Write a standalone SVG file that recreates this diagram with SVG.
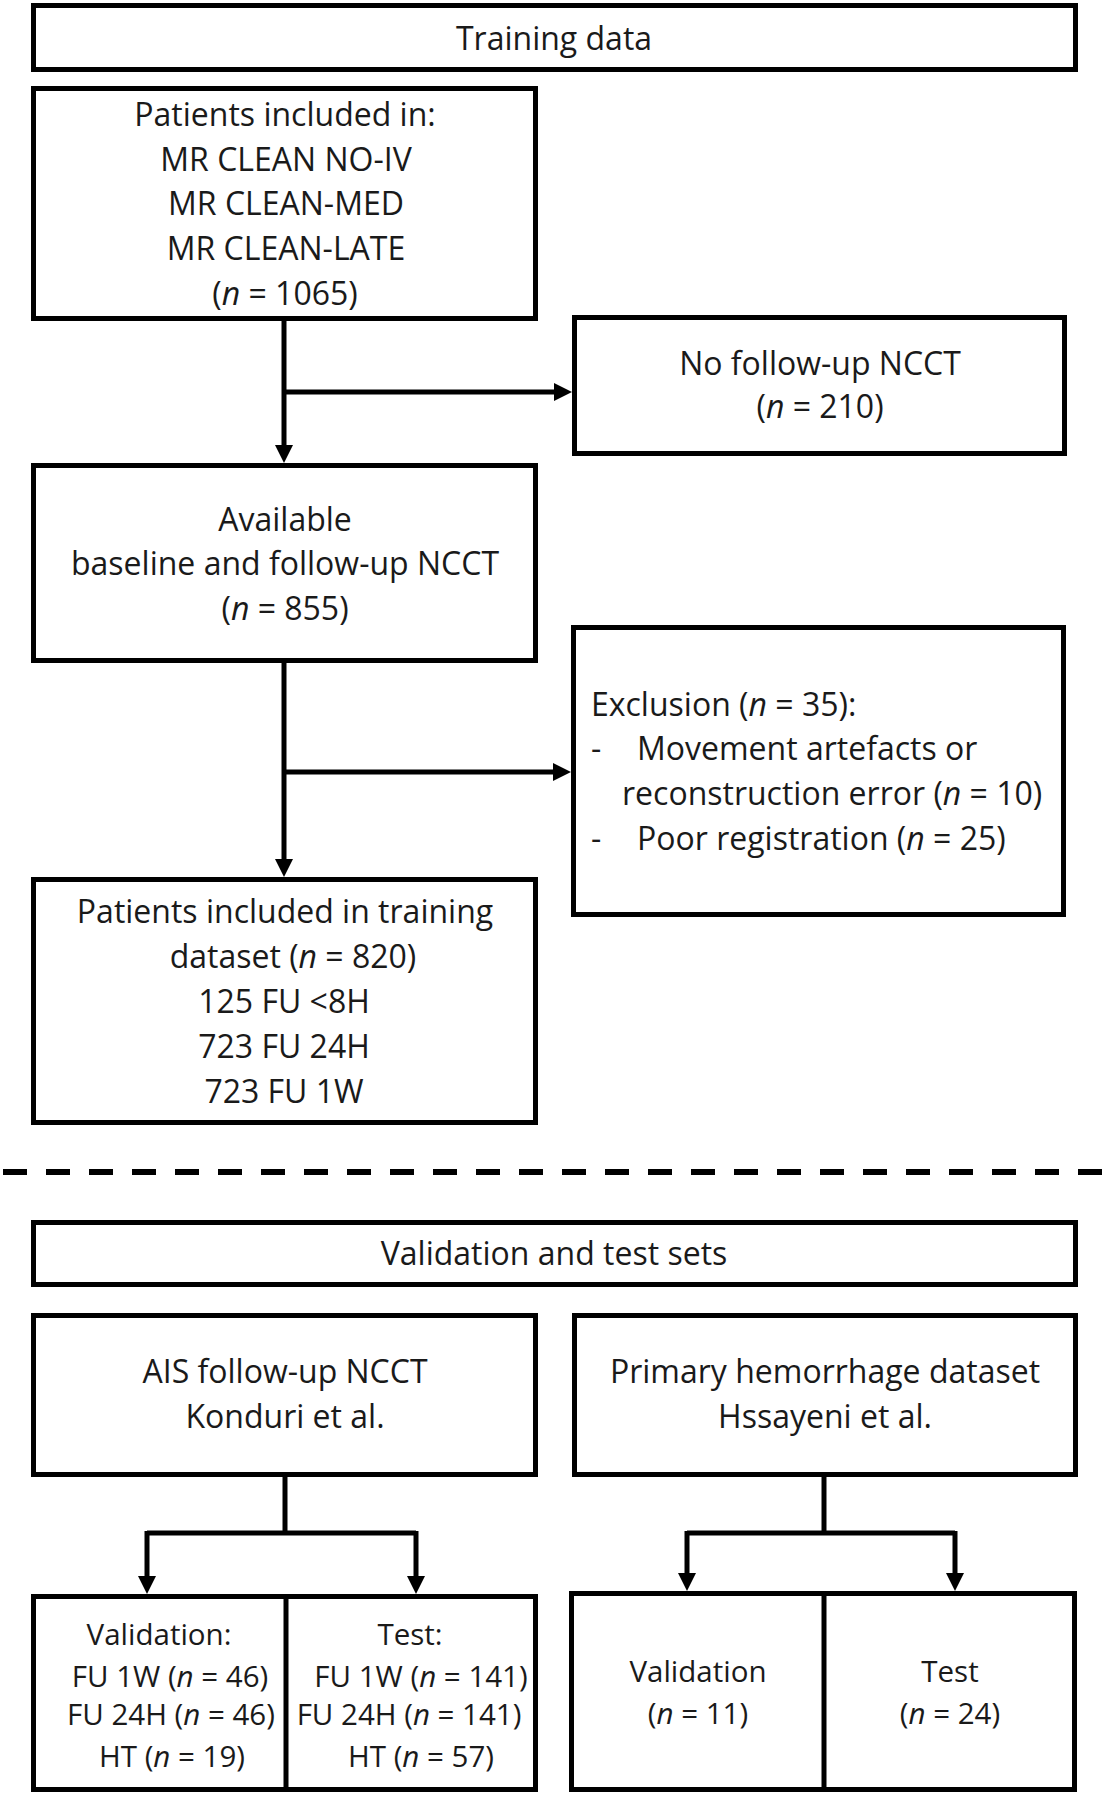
<svg xmlns="http://www.w3.org/2000/svg" width="1118" height="1800" viewBox="0 0 1118 1800">
<defs>
<style>
.box{fill:#fff;stroke:#000;stroke-width:5}
.ln{fill:none;stroke:#000;stroke-width:5}
.t{font-family:"Open Sans","Liberation Sans",sans-serif;font-size:32px;fill:#1a1a1a;text-anchor:middle}
.s{font-size:29.5px}
.l{text-anchor:start}
.i{font-style:italic}
</style>
<marker id="ah" markerUnits="userSpaceOnUse" markerWidth="18" markerHeight="18" viewBox="0 0 18 18" refX="5" refY="9" orient="auto">
<path d="M0,0 L18,9 L0,18 z" fill="#000"/>
</marker>
</defs>
<rect width="1118" height="1800" fill="#fff"/>

<g id="training-header">
<rect class="box" x="33.5" y="5.5" width="1042" height="64"/>
<text class="t" x="554" y="50">Training data</text>
</g>

<g id="patients-included">
<rect class="box" x="33.5" y="88.5" width="502" height="230"/>
<text class="t" x="285" y="126">Patients included in:</text>
<text class="t" x="286" y="171">MR CLEAN NO-IV</text>
<text class="t" x="286" y="215">MR CLEAN-MED</text>
<text class="t" x="286" y="260">MR CLEAN-LATE</text>
<text class="t" x="285" y="305">(<tspan class="i">n</tspan> = 1065)</text>
</g>

<g id="no-followup">
<rect class="box" x="574.5" y="317.5" width="490" height="136"/>
<text class="t" x="820" y="375">No follow-up NCCT</text>
<text class="t" x="820" y="418">(<tspan class="i">n</tspan> = 210)</text>
</g>

<g id="available">
<rect class="box" x="33.5" y="465.5" width="502" height="195"/>
<text class="t" x="285" y="531">Available</text>
<text class="t" x="285" y="575">baseline and follow-up NCCT</text>
<text class="t" x="285" y="620">(<tspan class="i">n</tspan> = 855)</text>
</g>

<g id="exclusion">
<rect class="box" x="573.5" y="627.5" width="490" height="287"/>
<text class="t l" x="591" y="716">Exclusion (<tspan class="i">n</tspan> = 35):</text>
<text class="t l" x="591" y="760">-</text>
<text class="t l" x="637" y="760">Movement artefacts or</text>
<text class="t l" x="622" y="805">reconstruction error  (<tspan class="i">n</tspan> = 10)</text>
<text class="t l" x="591" y="850">-</text>
<text class="t l" x="637" y="850">Poor registration (<tspan class="i">n</tspan> = 25)</text>
</g>

<g id="training-dataset">
<rect class="box" x="33.5" y="879.5" width="502" height="243"/>
<text class="t" x="285" y="923">Patients included in training</text>
<text class="t" x="293" y="968">dataset (<tspan class="i">n</tspan> = 820)</text>
<text class="t" x="284" y="1013">125 FU &lt;8H</text>
<text class="t" x="284" y="1058">723 FU 24H</text>
<text class="t" x="284" y="1103">723 FU 1W</text>
</g>

<g id="separator">
<line x1="3" y1="1172" x2="1118" y2="1172" stroke="#000" stroke-width="6" stroke-dasharray="24 19"/>
</g>

<g id="validation-header">
<rect class="box" x="33.5" y="1222.5" width="1042" height="62"/>
<text class="t" x="554" y="1265">Validation and test sets</text>
</g>

<g id="ais">
<rect class="box" x="33.5" y="1315.5" width="502" height="159"/>
<text class="t" x="285" y="1383">AIS follow-up NCCT</text>
<text class="t" x="285" y="1428">Konduri et al.</text>
</g>

<g id="primary">
<rect class="box" x="574.5" y="1315.5" width="501" height="159"/>
<text class="t" x="825" y="1383">Primary hemorrhage dataset</text>
<text class="t" x="825" y="1428">Hssayeni et al.</text>
</g>

<g id="ais-split">
<rect class="box" x="33.5" y="1596.5" width="502" height="193"/>
<line class="ln" x1="286" y1="1596" x2="286" y2="1790"/>
<text class="t s" x="159" y="1645">Validation:</text>
<text class="t s" x="170" y="1687">FU 1W (<tspan class="i">n</tspan> = 46)</text>
<text class="t s" x="171" y="1725">FU 24H (<tspan class="i">n</tspan> = 46)</text>
<text class="t s" x="172" y="1767">HT (<tspan class="i">n</tspan> = 19)</text>
<text class="t s" x="410" y="1645">Test:</text>
<text class="t s" x="421" y="1687">FU 1W (<tspan class="i">n</tspan> = 141)</text>
<text class="t s" x="409" y="1725">FU 24H (<tspan class="i">n</tspan> = 141)</text>
<text class="t s" x="421" y="1767">HT (<tspan class="i">n</tspan> = 57)</text>
</g>

<g id="primary-split">
<rect class="box" x="571.5" y="1593.5" width="503" height="196"/>
<line class="ln" x1="824" y1="1593" x2="824" y2="1790"/>
<text class="t s" x="698" y="1682">Validation</text>
<text class="t s" x="698" y="1724">(<tspan class="i">n</tspan> = 11)</text>
<text class="t s" x="950" y="1682">Test</text>
<text class="t s" x="950" y="1724">(<tspan class="i">n</tspan> = 24)</text>
</g>

<g id="connectors">
<path class="ln" d="M284,321 V450" marker-end="url(#ah)"/>
<path class="ln" d="M284,392 H559" marker-end="url(#ah)"/>
<path class="ln" d="M284,663 V864" marker-end="url(#ah)"/>
<path class="ln" d="M284,772 H558" marker-end="url(#ah)"/>
<path class="ln" d="M285,1477 V1533"/>
<path class="ln" d="M147,1533 H416"/>
<path class="ln" d="M147,1531 V1581" marker-end="url(#ah)"/>
<path class="ln" d="M416,1531 V1581" marker-end="url(#ah)"/>
<path class="ln" d="M824,1477 V1533"/>
<path class="ln" d="M687,1533 H955"/>
<path class="ln" d="M687,1531 V1578" marker-end="url(#ah)"/>
<path class="ln" d="M955,1531 V1578" marker-end="url(#ah)"/>
</g>
</svg>
